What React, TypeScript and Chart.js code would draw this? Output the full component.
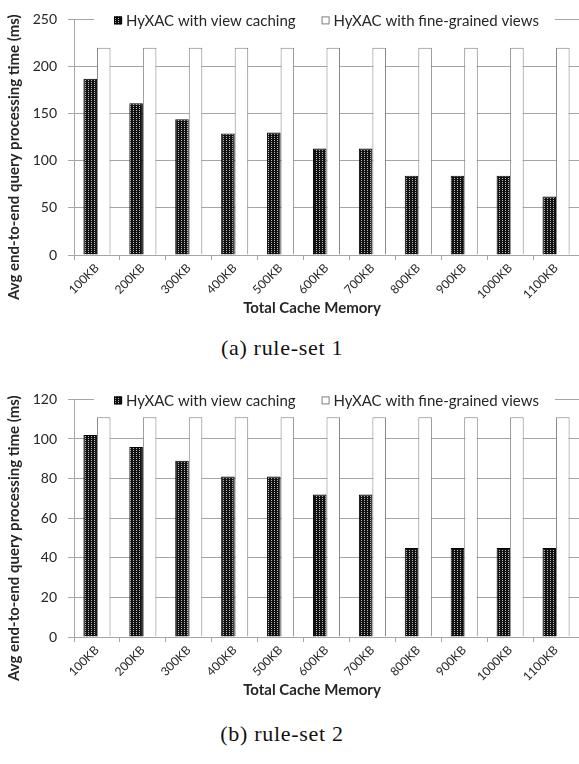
import React, { useEffect, useRef } from 'react';
import { Chart, registerables } from 'chart.js';

Chart.register(...registerables);

const categories = ['100KB', '200KB', '300KB', '400KB', '500KB', '600KB', '700KB', '800KB', '900KB', '1000KB', '1100KB'];
const seriesNames = ['HyXAC with view caching', 'HyXAC with fine-grained views'];
const ruleSet1Caching = [187, 161, 144, 129, 130, 113, 113, 84, 84, 84, 62];
const ruleSet1Fine = [220, 220, 220, 220, 220, 220, 220, 220, 220, 220, 220];
const ruleSet2Caching = [102, 96, 89, 81, 81, 72, 72, 45, 45, 45, 45];
const ruleSet2Fine = [111, 111, 111, 111, 111, 111, 111, 111, 111, 111, 111];
const ruleSet1Axis = [0, 250, 50];
const ruleSet2Axis = [0, 120, 20];
const yTitle = 'Avg end-to-end query processing time (ms)';
const xTitle = 'Total Cache Memory';
const captions = ['(a) rule-set 1', '(b) rule-set 2'];

const FONT = 'Lato';
const GRID = '#a6a6a6';
const TEXT = '#262626';

function makePattern(): CanvasPattern | string {
  const c = document.createElement('canvas');
  c.width = 3;
  c.height = 2;
  const g = c.getContext('2d');
  if (!g) return '#222';
  g.fillStyle = '#111111';
  g.fillRect(0, 0, 3, 2);
  g.fillStyle = '#b8b8b8';
  g.fillRect(1, 0, 1, 1);
  return g.createPattern(c, 'repeat') || '#222';
}

const overlayPlugin = {
  id: 'overlay',
  afterDraw(chart: any, _args: any, opts: any) {
    const ctx = chart.ctx as CanvasRenderingContext2D;
    const area = chart.chartArea;
    const ds = chart.data.datasets;
    ctx.save();
    // legend
    ctx.font = `15px ${FONT}`;
    ctx.textBaseline = 'middle';
    const box = 8;
    const gapBoxText = 4;
    const gapItems = 26;
    const widths = ds.map((d: any) => ctx.measureText(d.label).width);
    const total = widths.reduce((a: number, w: number) => a + box + gapBoxText + w, 0) + gapItems * (ds.length - 1);
    const cx = (area.left + area.right) / 2;
    let x = cx - total / 2;
    const y = area.top + 1;
    ctx.fillStyle = '#ffffff';
    ctx.fillRect(x - 20, y - 9, total + 36, 18);
    ds.forEach((d: any, i: number) => {
      ctx.fillStyle = d.backgroundColor;
      ctx.fillRect(x, y - box / 2, box, box);
      ctx.strokeStyle = d.borderColor;
      ctx.lineWidth = 1;
      ctx.strokeRect(x + 0.5, y - box / 2 + 0.5, box - 1, box - 1);
      x += box + gapBoxText;
      ctx.fillStyle = TEXT;
      ctx.textAlign = 'left';
      ctx.fillText(d.label, x, y + 1);
      x += widths[i] + gapItems;
    });
    // x axis title
    ctx.font = `bold 15px ${FONT}`;
    ctx.fillStyle = TEXT;
    ctx.textAlign = 'center';
    ctx.fillText(xTitle, 312, opts.xTitleY);
    // y axis title
    ctx.translate(14, (area.top + area.bottom) / 2 + 20);
    ctx.rotate(-Math.PI / 2);
    ctx.fillText(yTitle, 0, 0);
    ctx.restore();
  },
};

type PanelProps = {
  caching: number[];
  fine: number[];
  axis: number[];
  top: number;
  height: number;
  padTop: number;
  areaBottom: number;
  titleCenter: number;
};

function Panel(p: PanelProps) {
  const ref = useRef<HTMLCanvasElement | null>(null);
  useEffect(() => {
    if (!ref.current) return;
    const pattern = makePattern();
    const chart = new Chart(ref.current, {
      type: 'bar',
      data: {
        labels: categories,
        datasets: [
          {
            label: seriesNames[0],
            data: p.caching,
            backgroundColor: pattern as any,
            borderColor: '#000000',
            borderWidth: 1,
            categoryPercentage: 0.59,
            barPercentage: 1,
          },
          {
            label: seriesNames[1],
            data: p.fine,
            backgroundColor: '#ffffff',
            borderColor: '#7f7f7f',
            borderWidth: 1,
            categoryPercentage: 0.59,
            barPercentage: 1,
          },
        ],
      },
      options: {
        responsive: false,
        animation: false,
        layout: { autoPadding: false, padding: { top: p.padTop, left: 0, right: 0, bottom: 0 } } as any,
        plugins: {
          legend: { display: false },
          tooltip: { enabled: false },
          title: { display: false },
          overlay: { xTitleY: p.titleCenter },
        },
        scales: {
          x: {
            grid: { display: true, drawOnChartArea: false, drawTicks: true, tickLength: 5, color: GRID, offset: true },
            border: { display: true, color: GRID, width: 1 },
            ticks: {
              minRotation: 45,
              maxRotation: 45,
              autoSkip: false,
              padding: 1,
              color: TEXT,
              font: { family: FONT, size: 12 },
            },
            afterFit: (s: any) => {
              s.height = p.height - p.areaBottom;
            },
          },
          y: {
            min: p.axis[0],
            max: p.axis[1],
            grid: { color: GRID, tickLength: 6, drawTicks: true },
            border: { display: true, color: GRID, width: 1 },
            ticks: {
              stepSize: p.axis[2],
              padding: 11,
              color: TEXT,
              font: { family: FONT, size: 14 },
            },
            afterFit: (s: any) => {
              s.width = 74;
            },
          },
        },
      },
      plugins: [overlayPlugin],
    } as any);
    return () => chart.destroy();
  }, []);
  return (
    <canvas
      ref={ref}
      width={579}
      height={p.height}
      style={{ position: 'absolute', left: 0, top: p.top, width: 579, height: p.height }}
    />
  );
}

const captionStyle = (center: number): React.CSSProperties => ({
  position: 'absolute',
  left: 182,
  width: 200,
  top: center - 14,
  height: 28,
  lineHeight: '28px',
  textAlign: 'center',
  fontFamily: '"Liberation Serif", serif',
  fontSize: 22,
  letterSpacing: 0.7,
  color: '#111',
  whiteSpace: 'nowrap',
});

export default function App() {
  return (
    <div style={{ position: 'absolute', left: 0, top: 0, width: 579, height: 764, background: '#fff', overflow: 'hidden' }}>
      <Panel caching={ruleSet1Caching} fine={ruleSet1Fine} axis={ruleSet1Axis} top={0} height={330} padTop={19} areaBottom={255} titleCenter={308} />
      <div style={captionStyle(348)}>{captions[0]}</div>
      <Panel caching={ruleSet2Caching} fine={ruleSet2Fine} axis={ruleSet2Axis} top={380} height={330} padTop={18} areaBottom={257} titleCenter={310} />
      <div style={captionStyle(734)}>{captions[1]}</div>
    </div>
  );
}
